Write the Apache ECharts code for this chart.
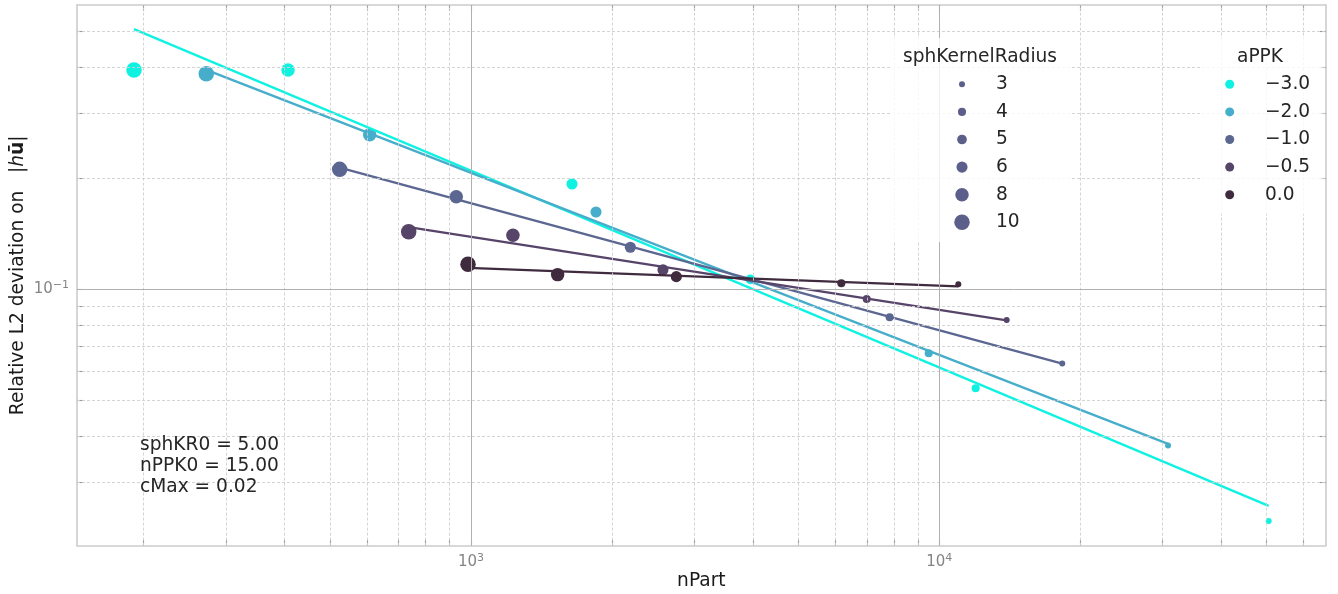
<!DOCTYPE html>
<html><head><meta charset="utf-8">
<script src="https://cdn.jsdelivr.net/npm/echarts@6/dist/echarts.min.js"></script>
<style>html,body{margin:0;padding:0;background:#fff}#c{width:1338px;height:594px}</style>
</head><body><div id="c"></div>
<script>
// ---------------- data ----------------
const aPPKLevels = [-3.0, -2.0, -1.0, -0.5, 0.0];
const aPPKLabels = ['−3.0', '−2.0', '−1.0', '−0.5', '0.0'];
const kernelRadii = [3, 4, 5, 6, 8, 10];

const nPart_m30 = [190.7, 406.7, 1643, 3948, 11957, 50507];
const err_m30   = [0.3929, 0.3930, 0.1929, 0.1064, 0.0539, 0.02356];
const kr_m30    = [10, 8, 6, 5, 4, 3];

const nPart_m20 = [272.1, 607.6, 1849, 9493, 30792];
const err_m20   = [0.3840, 0.2624, 0.1620, 0.0671, 0.0377];
const kr_m20    = [10, 8, 6, 4, 3];

const nPart_m10 = [524.3, 930.2, 2189, 7834, 18303];
const err_m10   = [0.2114, 0.1782, 0.1300, 0.0840, 0.0629];
const kr_m10    = [10, 8, 6, 4, 3];

const nPart_m05 = [736.2, 1229, 2570, 6998, 13928];
const err_m05   = [0.1432, 0.1401, 0.1130, 0.0941, 0.0826];
const kr_m05    = [10, 8, 6, 4, 3];

const nPart_p00 = [985.4, 1531, 2744, 6177, 10980];
const err_p00   = [0.1169, 0.1096, 0.1082, 0.1038, 0.1032];
const kr_p00    = [10, 8, 6, 4, 3];

const xMajorTicks = [1000, 10000];
const xMinorTicks = [200, 300, 400, 500, 600, 700, 800, 900,
                     2000, 3000, 4000, 5000, 6000, 7000, 8000, 9000,
                     20000, 30000, 40000, 50000, 60000];
const yMajorTicks = [0.1];
const yMinorTicks = [0.03, 0.04, 0.05, 0.06, 0.07, 0.08, 0.09, 0.2, 0.3, 0.4, 0.5];

const xTitle = 'nPart';
const yTitle = 'Relative L2 deviation on   |{hi|h}{ub|ū}|';
const sizeLegendTitle = 'sphKernelRadius';
const colorLegendTitle = 'aPPK';
const annotationLines = ['sphKR0 = 5.00', 'nPPK0 = 15.00', 'cMax = 0.02'];

// ---------------- styles ----------------
const groupColors = ['#0ff2e2', '#46aecb', '#5b6791', '#564469', '#3f2a3e'];
const sizeLegendColor = '#5b5f89';
const FONT = 'DejaVu Sans';
const FS = 18.6;
const X_MIN = 144.1, X_MAX = 66850, Y_MIN = 0.0202, Y_MAX = 0.5896;
function symSize(r) { return Math.sqrt(36 + (r - 3) / 7 * 204); }

const groups = [
  [nPart_m30, err_m30, kr_m30],
  [nPart_m20, err_m20, kr_m20],
  [nPart_m10, err_m10, kr_m10],
  [nPart_m05, err_m05, kr_m05],
  [nPart_p00, err_p00, kr_p00]
];

function fitLine(xs, ys) {
  const lx = xs.map(Math.log10), ly = ys.map(Math.log10);
  const n = lx.length;
  const mx = lx.reduce((a, b) => a + b, 0) / n, my = ly.reduce((a, b) => a + b, 0) / n;
  let sxy = 0, sxx = 0;
  for (let i = 0; i < n; i++) { sxy += (lx[i] - mx) * (ly[i] - my); sxx += (lx[i] - mx) ** 2; }
  const b = sxy / sxx, a = my - b * mx;
  const x0 = Math.min(...xs), x1 = Math.max(...xs);
  return [[x0, Math.pow(10, a + b * Math.log10(x0))], [x1, Math.pow(10, a + b * Math.log10(x1))]];
}

function isPow10(v) {
  const e = Math.log10(v);
  return Math.abs(e - Math.round(e)) < 1e-6;
}
function expLabel(v) {
  if (!isPow10(v)) return '';
  const e = Math.round(Math.log10(v));
  return '{b|10}{s|' + (e < 0 ? '−' + (-e) : e) + '}';
}
const labelRich = {
  b: { fontFamily: FONT, fontSize: 15, color: '#858585' },
  s: { fontFamily: FONT, fontSize: 11, color: '#858585', padding: [0, 0, 9, 0] }
};

const borderLine = { show: true, lineStyle: { color: '#cccccc', width: 1.6 } };
const tickStyle = { color: '#999999', width: 1.1 };

const series = [];
// grid lines via markLine
const minorLS = { color: '#cfcfcf', type: [3, 2], width: 0.9 };
const majorLS = { color: '#b0b0b0', type: 'solid', width: 1 };
series.push({
  type: 'line', data: [], z: 1, silent: true,
  markLine: {
    silent: true, symbol: ['none', 'none'], animation: false,
    label: { show: false }, emphasis: { disabled: true },
    data: [
      ...xMinorTicks.map(v => ({ xAxis: v, lineStyle: minorLS })),
      ...yMinorTicks.map(v => ({ yAxis: v, lineStyle: minorLS })),
      ...xMajorTicks.map(v => ({ xAxis: v, lineStyle: majorLS })),
      ...yMajorTicks.map(v => ({ yAxis: v, lineStyle: majorLS }))
    ]
  }
});

groups.forEach((g, i) => {
  const [xs, ys, rs] = g;
  series.push({
    name: aPPKLabels[i], type: 'scatter', z: 3,
    data: xs.map((x, j) => [x, ys[j], rs[j]]),
    symbolSize: d => symSize(d[2]),
    itemStyle: { color: groupColors[i], opacity: 1 },
    emphasis: { disabled: true }
  });
});
groups.forEach((g, i) => {
  const [xs, ys] = g;
  series.push({
    type: 'line', z: 4, data: fitLine(xs, ys), showSymbol: false, symbol: 'none',
    lineStyle: { color: groupColors[i], width: 2.3 }, emphasis: { disabled: true }
  });
});

// legends via graphic
const graphic = [];
graphic.push({ type: 'rect', shape: { x: 892, y: 38, width: 180, height: 204, r: 3 }, style: { fill: 'rgba(255,255,255,0.8)' }, z: 10 });
graphic.push({ type: 'rect', shape: { x: 1200, y: 38, width: 122, height: 176, r: 3 }, style: { fill: 'rgba(255,255,255,0.8)' }, z: 10 });
graphic.push({ type: 'text', x: 903, y: 57, z: 11, style: { text: sizeLegendTitle, fontFamily: FONT, fontSize: FS, fill: '#262626', verticalAlign: 'middle' } });
kernelRadii.forEach((r, k) => {
  const cy = 84.3 + k * 27.6;
  graphic.push({ type: 'circle', z: 11, shape: { cx: 962, cy: cy, r: symSize(r) / 2 }, style: { fill: sizeLegendColor } });
  graphic.push({ type: 'text', x: 996, y: cy, z: 11, style: { text: String(r), fontFamily: FONT, fontSize: FS, fill: '#262626', verticalAlign: 'middle' } });
});
graphic.push({ type: 'text', x: 1237, y: 57, z: 11, style: { text: colorLegendTitle, fontFamily: FONT, fontSize: FS, fill: '#262626', verticalAlign: 'middle' } });
aPPKLabels.forEach((lab, k) => {
  const cy = 84.3 + k * 27.6;
  graphic.push({ type: 'circle', z: 11, shape: { cx: 1229.7, cy: cy, r: 4.5 }, style: { fill: groupColors[k] } });
  graphic.push({ type: 'text', x: 1265, y: cy, z: 11, style: { text: lab, fontFamily: FONT, fontSize: FS, fill: '#262626', verticalAlign: 'middle' } });
});
graphic.push({ type: 'text', x: 140, y: 435, z: 11, style: { text: annotationLines.join('\n'), fontFamily: FONT, fontSize: FS, lineHeight: 20.8, fill: '#262626' } });

const LX0 = Math.log10(X_MIN), LX1 = Math.log10(X_MAX), LY0 = Math.log10(Y_MIN), LY1 = Math.log10(Y_MAX);
const xTickVals = xMinorTicks.concat(xMajorTicks).map(Math.log10);
const yTickVals = yMinorTicks.concat(yMajorTicks).map(Math.log10);
function tickAxis(pos, lo, hi, vals) {
  return {
    type: 'value', gridIndex: 1, min: lo, max: hi, position: pos,
    axisLine: { show: false },
    axisTick: { show: true, inside: true, length: 6, lineStyle: tickStyle, customValues: vals },
    axisLabel: { show: false }, splitLine: { show: false }
  };
}
const gridBox = { left: 77, right: 12.3, top: 5, bottom: 48.4, containLabel: false, outerBoundsMode: 'none' };

const chart = echarts.init(document.getElementById('c'), null, { renderer: 'canvas' });
chart.setOption({
  animation: false,
  backgroundColor: '#ffffff',
  textStyle: { fontFamily: FONT },
  grid: [Object.assign({}, gridBox), Object.assign({}, gridBox)],
  xAxis: [
    {
      type: 'log', logBase: 10, min: X_MIN, max: X_MAX, position: 'bottom', gridIndex: 0,
      axisLine: borderLine, axisTick: { show: false },
      axisLabel: { show: true, formatter: expLabel, rich: labelRich, margin: 7 },
      splitLine: { show: false }, minorTick: { show: false },
      name: xTitle, nameLocation: 'middle', nameGap: 26, nameMoveOverlap: false,
      nameTextStyle: { fontFamily: FONT, fontSize: FS, color: '#1a1a1a' }
    },
    {
      type: 'log', logBase: 10, min: X_MIN, max: X_MAX, position: 'top', gridIndex: 0,
      axisLine: borderLine, axisTick: { show: false },
      axisLabel: { show: false }, splitLine: { show: false }
    },
    tickAxis('bottom', LX0, LX1, xTickVals),
    tickAxis('top', LX0, LX1, xTickVals)
  ],
  yAxis: [
    {
      type: 'log', logBase: 10, min: Y_MIN, max: Y_MAX, position: 'left', gridIndex: 0,
      axisLine: borderLine, axisTick: { show: false },
      axisLabel: { show: true, formatter: expLabel, rich: labelRich, margin: 8 },
      splitLine: { show: false }, minorTick: { show: false },
      name: yTitle, nameLocation: 'middle', nameGap: 49, nameRotate: 90, nameMoveOverlap: false,
      nameTextStyle: {
        fontFamily: FONT, fontSize: FS, color: '#1a1a1a',
        rich: {
          hi: { fontFamily: FONT, fontSize: FS, fontStyle: 'italic', color: '#1a1a1a' },
          ub: { fontFamily: FONT, fontSize: FS, fontWeight: 'bold', color: '#1a1a1a' }
        }
      }
    },
    {
      type: 'log', logBase: 10, min: Y_MIN, max: Y_MAX, position: 'right', gridIndex: 0,
      axisLine: borderLine, axisTick: { show: false },
      axisLabel: { show: false }, splitLine: { show: false }
    },
    tickAxis('left', LY0, LY1, yTickVals),
    tickAxis('right', LY0, LY1, yTickVals)
  ],
  series: series,
  graphic: graphic
});
</script>
</body></html>
